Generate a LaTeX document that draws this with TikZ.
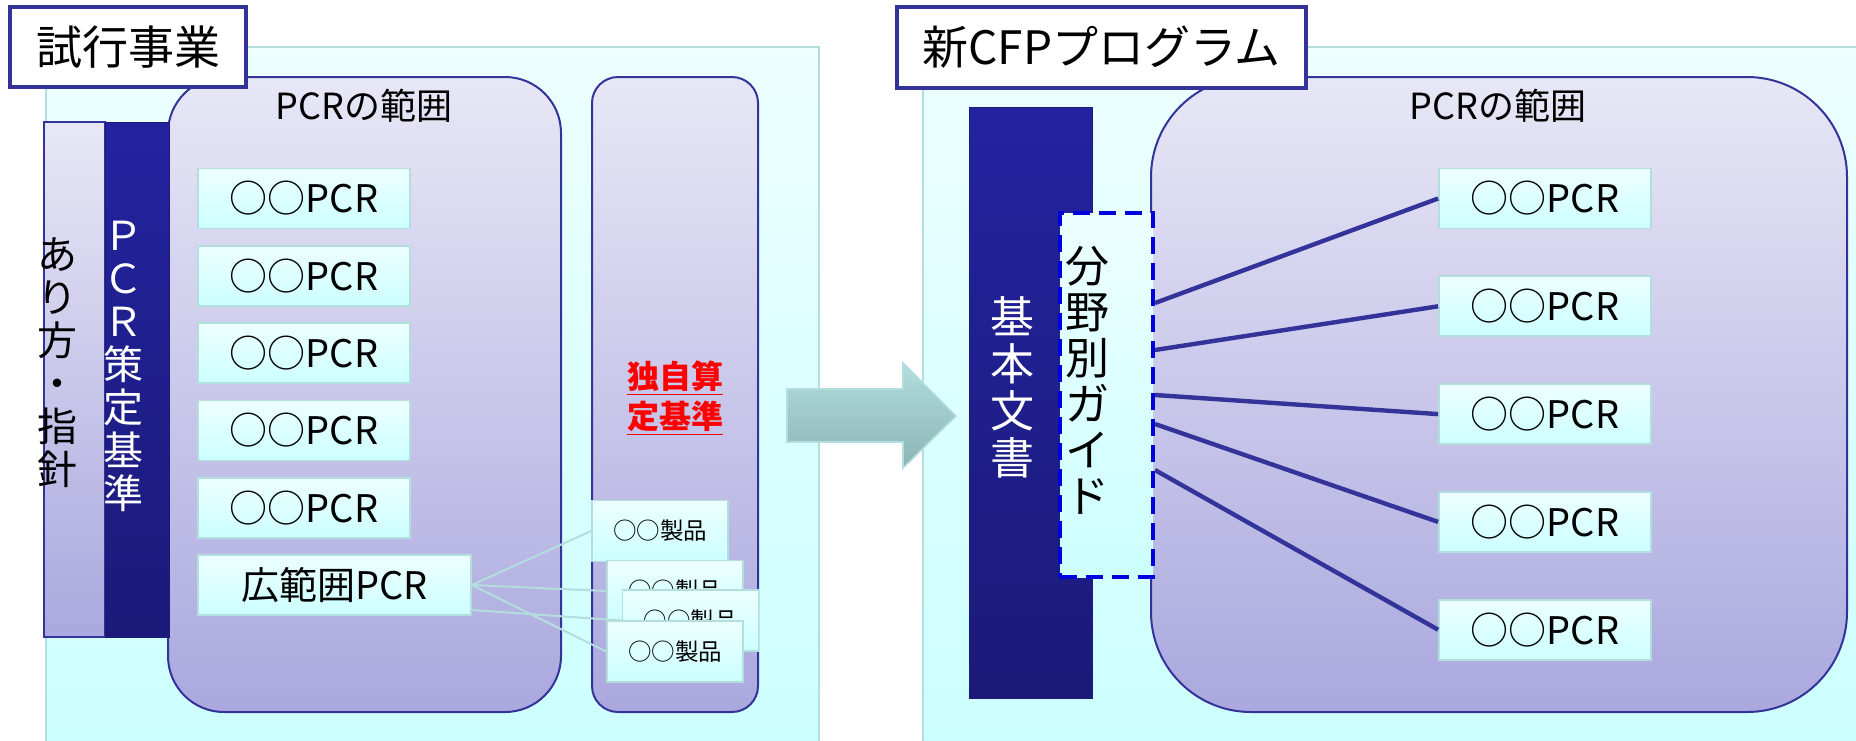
\documentclass[tikz,border=0pt]{standalone}
\usepackage{fontspec}
\setmainfont{Noto Sans CJK JP}
\usetikzlibrary{positioning}
\definecolor{frameblue}{HTML}{333399}
\definecolor{navytop}{HTML}{2323A0}
\definecolor{navybot}{HTML}{1B1A78}
\definecolor{edgeteal}{HTML}{B2DEDE}
\definecolor{cyantop}{HTML}{EDFFFF}
\definecolor{cyanbot}{HTML}{CCFFFF}
\definecolor{lavtop}{HTML}{E8E7F6}
\definecolor{lavbot}{HTML}{AAA8DE}
\definecolor{arrowtop}{HTML}{B1DDDF}
\definecolor{arrowbot}{HTML}{8CB4B4}
\definecolor{guideblue}{HTML}{0000DD}

\begin{document}
\begin{tikzpicture}
		[x=0.5pt,y=-0.5pt,
		panelbox/.style={draw=edgeteal,line width=0.8pt,top color=cyantop,bottom color=cyanbot},
		rangebox/.style={draw=frameblue,line width=1pt,top color=lavtop,bottom color=lavbot,inner sep=0pt},
		darkstrip/.style={draw=navybot,line width=0.5pt,top color=navytop,bottom color=navybot,inner sep=0pt},
		pcrbox/.style={draw=edgeteal,line width=0.9pt,top color=cyantop,bottom color=cyanbot,inner sep=0pt,minimum width=106pt,minimum height=30pt,font=\fontsize{19pt}{19pt}\selectfont},
		itembox/.style={pcrbox,minimum width=68pt,minimum height=30.5pt,font=\fontsize{11.75pt}{12pt}\selectfont},
		titlebox/.style={draw=frameblue,line width=2pt,fill=white,inner sep=0pt,font=\fontsize{23pt}{23pt}\selectfont},
		vtext/.style={align=center,inner sep=0pt,font=\fontsize{20pt}{21.5pt}\selectfont},
		rangetext/.style={inner sep=0pt,font=\fontsize{18pt}{18pt}\selectfont},
		wideline/.style={draw=edgeteal,line width=1pt},
		guideline/.style={draw=frameblue,line width=2.2pt}]
		\useasboundingbox (0,0) rectangle (1856,740);

		% draw the two panels and the arrow between them
		\draw [panelbox] (46,47) rectangle (819,742);
		\draw [panelbox] (923,47) rectangle (1858,742);
		\draw [draw=edgeteal,line width=0.8pt,top color=arrowtop,bottom color=arrowbot]
			(787,389) -- (903,389) -- (903,363) -- (956,416) -- (903,468) -- (903,442) -- (787,442) -- cycle;

		% trial project
		\node [rangebox,rounded corners=28pt,minimum width=196.5pt,minimum height=317.5pt] (rangeL) at (364.5,394.5) {};
		\node [rangebox,line width=0.8pt,minimum width=30.5pt,minimum height=257.5pt] (arikata) at (74.5,379.5) {};
		\node [darkstrip,minimum width=32pt,minimum height=257.5pt] (sakutei) at (137,379.5) {};
		\node [vtext] (arikataT) at (57,363) {あ\\り\\方\\・\\指\\針};
		\node [vtext,text=white] (sakuteiT) at (123,366) {Ｐ\\Ｃ\\Ｒ\\策\\定\\基\\準};
		\node [rangetext] (rangeLT) at (364,106) {PCRの範囲};

		\node [pcrbox] (p1) at (304,198.5) {○○PCR};
		\node [pcrbox,below=7.75pt of p1] (p2) {○○PCR};
		\node [pcrbox,below=7.75pt of p2] (p3) {○○PCR};
		\node [pcrbox,below=7.75pt of p3] (p4) {○○PCR};
		\node [pcrbox,below=7.75pt of p4] (p5) {○○PCR};
		\node [pcrbox,minimum width=136.5pt,below=7.75pt of p5.south west,anchor=north west] (wide) {広範囲PCR};

		\node [rangebox,rounded corners=13pt,minimum width=83pt,minimum height=317.5pt] (own) at (675,394.5) {};
		\node [align=center,inner sep=0pt,text=red,font=\fontsize{16pt}{20pt}\selectfont\bfseries] (ownT) at (675,398)
			{\underline{独自算}\\\underline{定基準}};

		% products linked to the wide PCR
		\node [itembox] (s1) at (660,531) {○○製品};
		\node [itembox] (s2) at (675,591) {○○製品};
		\node [itembox] (s3) at (690.5,620.5) {○○製品};
		\node [itembox] (s4) at (675,651.5) {○○製品};
		\draw [wideline] (wide.east) -- (s1.west);
		\draw [wideline] (wide.east) -- (s2.west);
		\draw [wideline] ([yshift=-12.5pt]wide.east) -- (s3.west);
		\draw [wideline] (wide.east) -- (s4.west);

		% new CFP program
		\node [darkstrip,minimum width=61.5pt,minimum height=295.5pt] (basic) at (1030.5,402.5) {};
		\node [vtext,text=white,font=\fontsize{22pt}{23.5pt}\selectfont] (basicT) at (1012,387) {基\\本\\文\\書};
		\node [rangebox,rounded corners=50pt,minimum width=348pt,minimum height=317.5pt] (rangeR) at (1499,394.5) {};
		\node [rangetext] (rangeRT) at (1498,106) {PCRの範囲};
		\node [draw=guideblue,line width=2pt,dash pattern=on 8.5pt off 4.5pt,top color=cyantop,bottom color=cyanbot,
			inner sep=0pt,minimum width=46.5pt,minimum height=182pt] (guide) at (1106.5,395) {};
		\node [vtext,font=\fontsize{22pt}{23pt}\selectfont] (guideT) at (1087,380) {分\\野\\別\\ガ\\イ\\ド};

		\node [pcrbox] (r1) at (1545,198.5) {○○PCR};
		\node [pcrbox,below=23pt of r1] (r2) {○○PCR};
		\node [pcrbox,below=23pt of r2] (r3) {○○PCR};
		\node [pcrbox,below=23pt of r3] (r4) {○○PCR};
		\node [pcrbox,below=23pt of r4] (r5) {○○PCR};

		%draw the guide links
		\draw [guideline] ([yshift=46pt]guide.east) -- (r1.west);
		\draw [guideline] ([yshift=22.5pt]guide.east) -- (r2.west);
		\draw [guideline] (guide.east) -- (r3.west);
		\draw [guideline] ([yshift=-14.5pt]guide.east) -- (r4.west);
		\draw [guideline] ([yshift=-37.5pt]guide.east) -- (r5.west);

		% titles
		\node [titlebox,minimum width=118pt,minimum height=40pt] (oldT) at (128,47) {試行事業};
		\node [titlebox,minimum width=204.5pt,minimum height=40.5pt] (newT) at (1101.5,47.5) {新CFPプログラム};
	\end{tikzpicture}
\end{document}
